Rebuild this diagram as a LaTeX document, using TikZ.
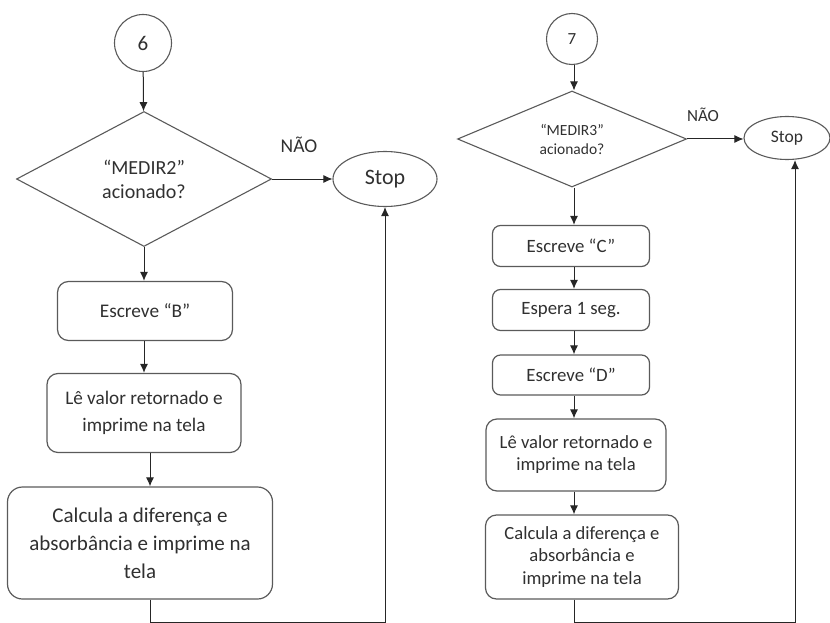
\documentclass[tikz,border=0pt]{standalone}
\usepackage{fontspec}
\setmainfont{Carlito}
\usepackage{tikz}
\usetikzlibrary{arrows.meta,positioning,calc,shapes.geometric}
\definecolor{edgegray}{HTML}{5A5A5A}
\definecolor{txtgray}{HTML}{303030}

\begin{document}
\begin{tikzpicture}[x=1pt,y=-1pt,
    proc/.style={draw=edgegray,line width=1.2pt,rounded corners=11pt,inner sep=0pt,align=center,text=txtgray},
    decision/.style={draw=edgegray,line width=1.1pt,diamond,inner sep=0pt,align=center,text=txtgray},
    stopnode/.style={draw=edgegray,line width=1.1pt,ellipse,inner sep=0pt,text=txtgray},
    conn/.style={draw=edgegray,line width=1.1pt,circle,inner sep=0pt,text=txtgray},
    arr/.style={draw=black!85,line width=1pt,-{Latex[length=9pt,width=8pt]}}]
    \useasboundingbox (0,0) rectangle (830,623);

    % left column
    \node [conn,minimum size=57pt,font=\fontsize{21}{25}\selectfont] (c6) at (143,43) {6};
    \node [decision,minimum width=255pt,minimum height=135pt,font=\fontsize{20}{24}\selectfont] (d2) at (144,179) {“MEDIR2”\\ acionado?};
    \node [stopnode,minimum width=104pt,minimum height=55pt,font=\fontsize{22}{26}\selectfont] (stop2) at (385,179) {Stop};
    \node [text=txtgray,font=\fontsize{19.5}{23}\selectfont] (nao2) at (299,145) {NÃO};
    \node [proc,minimum width=175pt,minimum height=59pt,font=\fontsize{19.3}{23}\selectfont] (b2) at (145,311) {Escreve “B”};
    \node [proc,minimum width=194pt,minimum height=79pt,font=\fontsize{19.2}{27}\selectfont] (lv2) at (144,413) {Lê valor retornado e\\ imprime na tela};
    \node [proc,rounded corners=15pt,minimum width=265pt,minimum height=112pt,font=\fontsize{21}{28}\selectfont] (calc2) at (140,543) {Calcula a diferença e\\ absorbância e imprime na\\ tela};
    \coordinate (loop2) at (150,622);

    \draw [arr] (c6) -- (d2);
    \draw [arr] (d2.east) -- (stop2.west);
    \draw [arr] (d2.south) -- (b2.north -| d2.south);
    \draw [arr] (b2.south -| d2.south) -- (lv2.north -| d2.south);
    \draw [arr] (lv2.south -| loop2) -- (calc2.north -| loop2);
    \draw [arr] (calc2.south -| loop2) -- (loop2) -| (stop2.south);

    % right column
    \node [conn,minimum size=51pt,font=\fontsize{17}{20}\selectfont] (c7) at (572,39) {7};
    \node [decision,minimum width=229pt,minimum height=96pt,font=\fontsize{15.5}{19}\selectfont] (d3) at (572,139) {“MEDIR3”\\ acionado?};
    \node [stopnode,minimum width=86pt,minimum height=43pt,font=\fontsize{17.5}{21}\selectfont] (stop3) at (787,138) {Stop};
    \node [text=txtgray,font=\fontsize{17}{20}\selectfont] (nao3) at (703,115) {NÃO};
    \node [proc,rounded corners=8pt,minimum width=157pt,minimum height=41pt,font=\fontsize{18.8}{22}\selectfont] (ec) at (571,246) {Escreve “C”};
    \node [proc,rounded corners=8pt,minimum width=157pt,minimum height=41pt,font=\fontsize{18.8}{22}\selectfont] (esp) at (571,310) {Espera 1 seg.};
    \node [proc,rounded corners=8pt,minimum width=157pt,minimum height=40pt,font=\fontsize{18.8}{22}\selectfont] (ed) at (571,375) {Escreve “D”};
    \node [proc,minimum width=180pt,minimum height=72pt,font=\fontsize{18.6}{22}\selectfont] (lv3) at (576,455) {Lê valor retornado e\\ imprime na tela};
    \node [proc,minimum width=193pt,minimum height=84pt,font=\fontsize{18.6}{22.5}\selectfont] (calc3) at (582,557) {Calcula a diferença e\\ absorbância e\\ imprime na tela};
    \coordinate (loop3) at (574,622);

    \draw [arr] (c7.south -| loop3) -- (d3.north -| loop3);
    \draw [arr] (d3.east) -- (d3.east -| stop3.west);
    \draw [arr] (d3.south -| loop3) -- (ec.north -| loop3);
    \draw [arr] (ec.south -| loop3) -- (esp.north -| loop3);
    \draw [arr] (esp.south -| loop3) -- (ed.north -| loop3);
    \draw [arr] (ed.south -| loop3) -- (lv3.north -| loop3);
    \draw [arr] (lv3.south -| loop3) -- (calc3.north -| loop3);
    \draw [arr] (calc3.south -| loop3) -- (loop3) -| ([xshift=8pt]stop3.south);
\end{tikzpicture}
\end{document}
